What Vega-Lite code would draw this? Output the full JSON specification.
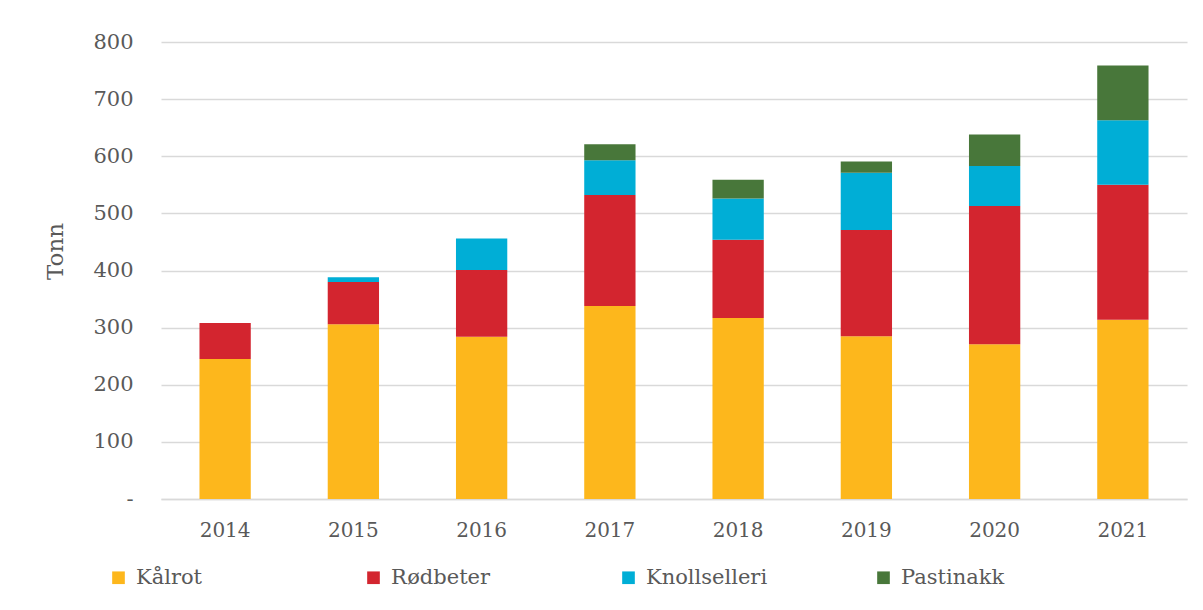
{
  "$schema": "https://vega.github.io/schema/vega-lite/v6.json",
  "width": 1026,
  "height": 457,
  "autosize": "none",
  "padding": {"left": 161, "top": 42, "right": 16, "bottom": 111},
  "background": "white",
  "config": {
    "view": {"stroke": null},
    "font": "DejaVu Serif"
  },
  "data": {
    "values": [
      {"year": "2014", "type": "Kålrot", "n": 1, "tonn": 245},
      {"year": "2014", "type": "Rødbeter", "n": 2, "tonn": 63},
      {"year": "2015", "type": "Kålrot", "n": 1, "tonn": 306},
      {"year": "2015", "type": "Rødbeter", "n": 2, "tonn": 74},
      {"year": "2015", "type": "Knollselleri", "n": 3, "tonn": 8},
      {"year": "2016", "type": "Kålrot", "n": 1, "tonn": 284},
      {"year": "2016", "type": "Rødbeter", "n": 2, "tonn": 117},
      {"year": "2016", "type": "Knollselleri", "n": 3, "tonn": 55},
      {"year": "2017", "type": "Kålrot", "n": 1, "tonn": 338},
      {"year": "2017", "type": "Rødbeter", "n": 2, "tonn": 194},
      {"year": "2017", "type": "Knollselleri", "n": 3, "tonn": 61},
      {"year": "2017", "type": "Pastinakk", "n": 4, "tonn": 28},
      {"year": "2018", "type": "Kålrot", "n": 1, "tonn": 317},
      {"year": "2018", "type": "Rødbeter", "n": 2, "tonn": 137},
      {"year": "2018", "type": "Knollselleri", "n": 3, "tonn": 72},
      {"year": "2018", "type": "Pastinakk", "n": 4, "tonn": 33},
      {"year": "2019", "type": "Kålrot", "n": 1, "tonn": 285},
      {"year": "2019", "type": "Rødbeter", "n": 2, "tonn": 186},
      {"year": "2019", "type": "Knollselleri", "n": 3, "tonn": 100},
      {"year": "2019", "type": "Pastinakk", "n": 4, "tonn": 20},
      {"year": "2020", "type": "Kålrot", "n": 1, "tonn": 271},
      {"year": "2020", "type": "Rødbeter", "n": 2, "tonn": 242},
      {"year": "2020", "type": "Knollselleri", "n": 3, "tonn": 70},
      {"year": "2020", "type": "Pastinakk", "n": 4, "tonn": 55},
      {"year": "2021", "type": "Kålrot", "n": 1, "tonn": 314},
      {"year": "2021", "type": "Rødbeter", "n": 2, "tonn": 236},
      {"year": "2021", "type": "Knollselleri", "n": 3, "tonn": 113},
      {"year": "2021", "type": "Pastinakk", "n": 4, "tonn": 96}
    ]
  },
  "mark": {"type": "bar"},
  "encoding": {
    "x": {
      "field": "year",
      "type": "ordinal",
      "scale": {"paddingInner": 0.6, "paddingOuter": 0.3},
      "axis": {
        "title": null,
        "labelAngle": 0,
        "labelFontSize": 20,
        "labelColor": "#595959",
        "labelPadding": 21,
        "ticks": false,
        "domainColor": "#D9D9D9",
        "domainWidth": 1.5
      }
    },
    "y": {
      "field": "tonn",
      "type": "quantitative",
      "aggregate": "sum",
      "stack": "zero",
      "scale": {"domain": [0, 800], "nice": false},
      "axis": {
        "title": "Tonn",
        "titleFontSize": 23,
        "titleFontWeight": "normal",
        "titleColor": "#595959",
        "titleAngle": -90,
        "titleX": -106,
        "titleY": 209,
        "titleAlign": "center",
        "titleBaseline": "middle",
        "values": [0, 100, 200, 300, 400, 500, 600, 700, 800],
        "labelExpr": "datum.value == 0 ? '-' : datum.label",
        "labelFontSize": 21,
        "labelColor": "#595959",
        "labelPadding": 28,
        "ticks": false,
        "domain": false,
        "gridColor": "#D9D9D9",
        "gridWidth": 1.5
      }
    },
    "color": {
      "field": "type",
      "type": "nominal",
      "sort": ["Kålrot", "Rødbeter", "Knollselleri", "Pastinakk"],
      "scale": {
        "domain": ["Kålrot", "Rødbeter", "Knollselleri", "Pastinakk"],
        "range": ["#FDB71C", "#D3252F", "#00AED6", "#48773A"]
      },
      "legend": {
        "title": null,
        "orient": "none",
        "legendX": -53,
        "legendY": 525,
        "direction": "horizontal",
        "columns": 4,
        "gridAlign": "all",
        "columnPadding": 105,
        "symbolType": "square",
        "symbolSize": 160,
        "symbolStrokeWidth": 0,
        "symbolOffset": 0,
        "labelOffset": 7,
        "labelFontSize": 21,
        "labelColor": "#595959",
        "labelLimit": 300
      }
    },
    "order": {"field": "n", "type": "quantitative", "sort": "ascending"}
  }
}
